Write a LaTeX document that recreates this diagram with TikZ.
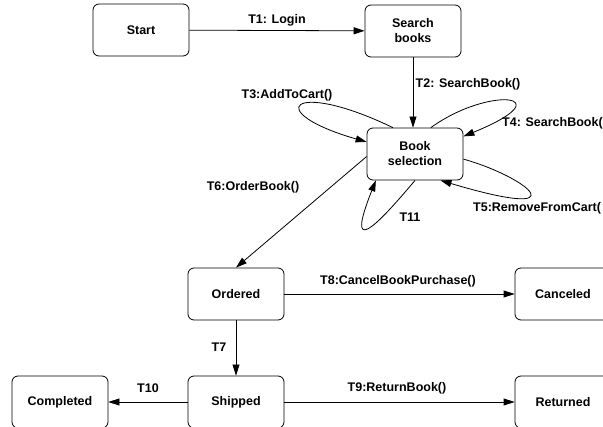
\documentclass[tikz,border=0pt]{standalone}
\usepackage{fontspec}
\setmainfont{Liberation Sans}
\usetikzlibrary{arrows.meta}

\tikzset{
  state/.style={draw, rounded corners=6pt, minimum width=96pt, minimum height=52pt,
    align=center, line width=0.8pt, font=\fontsize{12.5}{15}\selectfont\bfseries},
  lbl/.style={font=\fontsize{12.5}{15}\selectfont\bfseries, inner sep=0pt},
  arr/.style={-{Triangle[length=11pt,width=7pt]}, line width=0.8pt},
}

\begin{document}
\begin{tikzpicture}[x=1pt, y=-1pt]
\def \xa {141}
\def \xb {236}
\def \xc {415}
\def \xd {563}

\def \ya {30}
\def \yb {154}
\def \yc {294}
\def \yd {402}

\useasboundingbox (0,0) rectangle (603,427);

% states
\node[state] (start) at (\xa, \ya) {Start};
\node[state] (search) at (\xc - 2, \ya + 1) {Search\\books};
\node[state] (booksel) at (\xc, \yb) {Book\\selection};
\node[state] (ordered) at (\xb, \yc) {Ordered};
\node[state] (canceled) at (\xd, \yc) {Canceled};
\node[state] (shipped) at (\xb, \yd) {Shipped};
\node[state] (completed) at (60, \yd) {Completed};
\node[state] (returned) at (\xd, \yd) {Returned};

% transitions
\draw[arr] (start) -- (search);
\draw[arr] (search) -- (search |- booksel.north);
\draw[arr] (booksel.130) .. controls (290,78) and (262,112) .. (booksel.166);
\draw[arr] (booksel.59) .. controls (490,85) and (565,95) .. (booksel.20);
\draw[arr] (booksel.-6) .. controls (530,178) and (580,222) .. (booksel.-46);
\draw[arr] (booksel.-90) .. controls (375,228) and (345,258) .. (booksel.-146);
\draw[arr] (booksel.183) -- (ordered.north);
\draw[arr] (ordered) -- (canceled);
\draw[arr] (ordered) -- (shipped);
\draw[arr] (shipped) -- (returned);
\draw[arr] (shipped) -- (completed);

% labels
\node[lbl] (t1) at (277, 20) {T1: Login};
\node[lbl] (t2) at (468, 84) {T2: SearchBook()};
\node[lbl] (t3) at (287, 95) {T3:AddToCart()};
\node[lbl, anchor=west] (t4) at (502, 123) {T4: SearchBook(};
\node[lbl, anchor=west] (t5) at (473, 208) {T5:RemoveFromCart(};
\node[lbl] (t6) at (253, 187) {T6:OrderBook()};
\node[lbl] (t11) at (410, 217) {T11};
\node[lbl] (t7) at (219, 347) {T7};
\node[lbl] (t8) at (398, 281) {T8:CancelBookPurchase()};
\node[lbl] (t9) at (397, 388) {T9:ReturnBook()};
\node[lbl] (t10) at (148, 388) {T10};

\end{tikzpicture}
\end{document}
